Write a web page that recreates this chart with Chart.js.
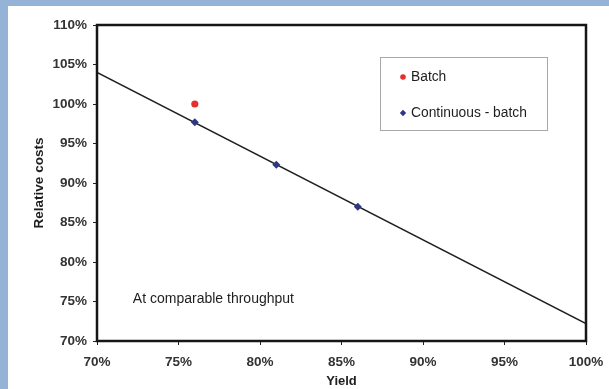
<!DOCTYPE html>
<html>
<head>
<meta charset="utf-8">
<script src="https://cdn.jsdelivr.net/npm/chart.js@4/dist/chart.umd.min.js"></script>
<style>
  html, body { margin: 0; padding: 0; }
  body { width: 609px; height: 389px; background: #95b3d7; position: relative; overflow: hidden; }
  #panel { position: absolute; left: 8px; top: 6px; width: 601px; height: 383px; background: #ffffff; }
  #chart { display: block; }
</style>
</head>
<body>
<div id="panel"><canvas id="chart" width="601" height="383"></canvas></div>
<script>
// Yield (%) versus relative production cost (%)
const batchYield = [76];
const batchCost = [100];
const contYield = [76, 81, 86];
const contCost = [97.7, 92.3, 87.0];
const trendYield = [70, 100];
const trendCost = [104, 72.2];
const xTicks = [70, 75, 80, 85, 90, 95, 100];
const yTicks = [70, 75, 80, 85, 90, 95, 100, 105, 110];

const pts = (xs, ys) => xs.map((x, i) => ({ x: x, y: ys[i] }));

const FONT = '"Liberation Sans", Arial, sans-serif';
const INK = '#1e1e1e';

// Frame, legend box and note text
const decor = {
  id: 'decor',
  afterDatasetsDraw(chart) {
    const { ctx, chartArea: a, scales } = chart;
    ctx.save();
    // plot frame
    ctx.strokeStyle = '#161616';
    ctx.lineWidth = 2.5;
    ctx.strokeRect(a.left, a.top, a.right - a.left, a.bottom - a.top);

    // legend
    const lx = a.left + 283, ly = a.top + 32, lw = 167, lh = 73;
    ctx.fillStyle = '#ffffff';
    ctx.fillRect(lx, ly, lw, lh);
    ctx.strokeStyle = '#a8a8a8';
    ctx.lineWidth = 1;
    ctx.strokeRect(lx + 0.5, ly + 0.5, lw, lh);
    const entries = [chart.data.datasets[1], chart.data.datasets[2]];
    const rows = [ly + 20, ly + 56];
    ctx.font = '13.8px ' + FONT;
    ctx.textBaseline = 'middle';
    entries.forEach((ds, i) => {
      const mx = lx + 23, my = rows[i];
      ctx.fillStyle = ds.backgroundColor;
      ctx.beginPath();
      if (ds.pointStyle === 'rectRot') {
        const r = 3.2;
        ctx.moveTo(mx, my - r); ctx.lineTo(mx + r, my); ctx.lineTo(mx, my + r); ctx.lineTo(mx - r, my);
        ctx.closePath();
      } else {
        ctx.arc(mx, my, 2.8, 0, Math.PI * 2);
      }
      ctx.fill();
      ctx.fillStyle = INK;
      ctx.textAlign = 'left';
      ctx.fillText(ds.label, mx + 8, my);
    });

    // note
    ctx.font = '14px ' + FONT;
    ctx.fillStyle = INK;
    ctx.textAlign = 'left';
    ctx.textBaseline = 'middle';
    ctx.fillText('At comparable throughput', scales.x.getPixelForValue(72.2), scales.y.getPixelForValue(75.35));
    ctx.restore();
  }
};

new Chart(document.getElementById('chart'), {
  type: 'scatter',
  data: {
    datasets: [
      {
        label: 'Trend',
        data: pts(trendYield, trendCost),
        showLine: true,
        borderColor: '#1f1f1f',
        borderWidth: 1.6,
        pointRadius: 0,
        order: 3
      },
      {
        label: 'Batch',
        data: pts(batchYield, batchCost),
        backgroundColor: '#e3302c',
        borderColor: '#e3302c',
        pointStyle: 'circle',
        pointRadius: 3.6,
        borderWidth: 0,
        order: 1
      },
      {
        label: 'Continuous - batch',
        data: pts(contYield, contCost),
        backgroundColor: '#2f3783',
        borderColor: '#2f3783',
        pointStyle: 'rectRot',
        pointRadius: 4,
        borderWidth: 0,
        order: 1
      }
    ]
  },
  options: {
    responsive: false,
    animation: false,
    layout: { padding: { top: 19, right: 23, left: 0, bottom: 0 } },
    plugins: { legend: { display: false }, tooltip: { enabled: false } },
    scales: {
      x: {
        type: 'linear',
        min: 70, max: 100,
        afterBuildTicks: s => { s.ticks = xTicks.map(v => ({ value: v })); },
        afterFit: s => { s.height = 48; s.paddingLeft = 0; s.paddingRight = 0; },
        ticks: {
          callback: v => v + '%',
          font: { family: FONT, size: 13.5, weight: 'bold' },
          color: '#333333',
          padding: 9,
          maxRotation: 0
        },
        grid: { drawOnChartArea: false, drawTicks: true, tickLength: 4, color: '#222' },
        border: { display: false },
        title: {
          display: true, text: 'Yield',
          font: { family: FONT, size: 13, weight: 'bold' },
          color: INK,
          padding: { top: 0, bottom: 0 }
        }
      },
      y: {
        type: 'linear',
        min: 70, max: 110,
        afterBuildTicks: s => { s.ticks = yTicks.map(v => ({ value: v })); },
        afterFit: s => { s.width = 89; s.paddingTop = 0; s.paddingBottom = 0; },
        ticks: {
          callback: v => v + '%',
          font: { family: FONT, size: 13.5, weight: 'bold' },
          color: '#333333',
          padding: 6
        },
        grid: { drawOnChartArea: false, drawTicks: true, tickLength: 4, color: '#222' },
        border: { display: false },
        title: {
          display: true, text: 'Relative costs',
          font: { family: FONT, size: 13.5, weight: 'bold' },
          color: INK,
          padding: { top: 23, bottom: 0 }
        }
      }
    }
  },
  plugins: [decor]
});
</script>
</body>
</html>
